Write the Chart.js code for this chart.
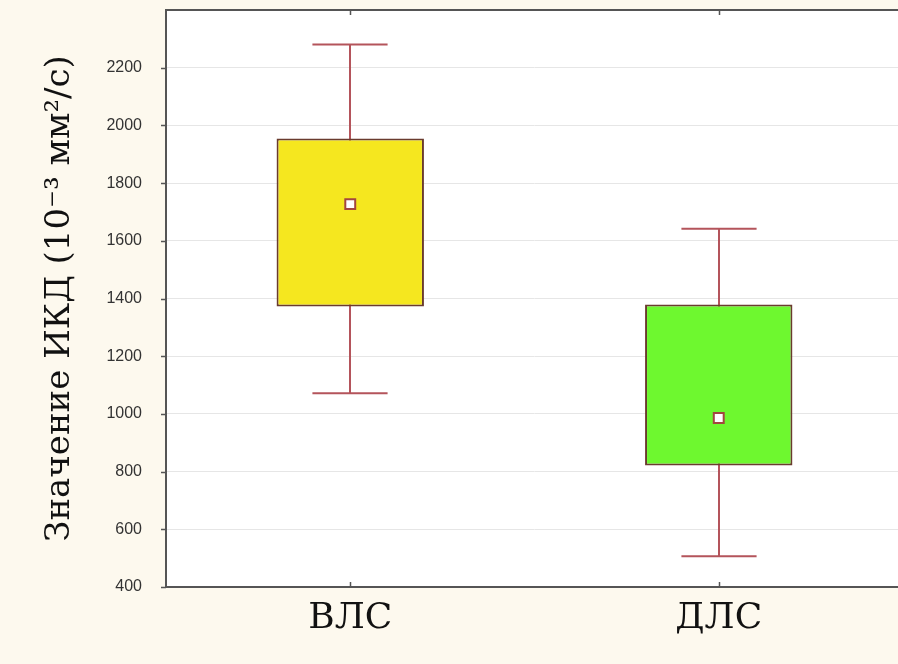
<!DOCTYPE html>
<html>
<head>
<meta charset="utf-8">
<script src="https://cdn.jsdelivr.net/npm/chart.js@4/dist/chart.umd.min.js"></script>
<style>
  html, body { margin: 0; padding: 0; background: #fdf9ee; overflow: hidden; }
  #wrap { width: 912px; height: 664px; }
</style>
</head>
<body>
<div id="wrap"><canvas id="c" width="912" height="664"></canvas></div>
<script>
// Groups and their five-number summaries (10^-3 mm²/s)
const groups = ['ВЛС', 'ДЛС'];
const whiskerLow = [1072, 507];
const boxLow = [1372, 821];
const medians = [1727, 986];
const boxHigh = [1955, 1379];
const whiskerHigh = [2280, 1642];
const yTicks = [400, 600, 800, 1000, 1200, 1400, 1600, 1800, 2000, 2200];

const boxColors = ['#f5e71f', '#6ef82f'];
const boxBorder = '#6a3b2e';
const whiskerColor = '#b4545b';

// Whiskers with caps, drawn behind the boxes
const whiskerPlugin = {
  id: 'whiskers',
  beforeDatasetsDraw(chart) {
    const { ctx, scales: { x, y } } = chart;
    const boxes = chart.getDatasetMeta(0).data;
    ctx.save();
    ctx.strokeStyle = whiskerColor;
    ctx.lineWidth = 2;
    groups.forEach((g, i) => {
      const cx = Math.round(x.getPixelForValue(i));
      const half = boxes[i].width * 0.255;
      const yLo = y.getPixelForValue(whiskerLow[i]);
      const yHi = y.getPixelForValue(whiskerHigh[i]);
      ctx.beginPath();
      ctx.moveTo(cx, yHi); ctx.lineTo(cx, yLo);
      ctx.moveTo(cx - half, yHi); ctx.lineTo(cx + half, yHi);
      ctx.moveTo(cx - half, yLo); ctx.lineTo(cx + half, yLo);
      ctx.stroke();
    });
    ctx.restore();
  }
};

// Plot frame, white plot background and small frame ticks
const framePlugin = {
  id: 'frame',
  beforeDraw(chart) {
    const { ctx, chartArea: a } = chart;
    ctx.save();
    ctx.fillStyle = '#ffffff';
    ctx.fillRect(a.left, a.top, a.right - a.left, a.bottom - a.top);
    ctx.restore();
  },
  afterDraw(chart) {
    const { ctx, chartArea: a, scales: { x, y } } = chart;
    ctx.save();
    ctx.strokeStyle = '#555555';
    ctx.lineWidth = 2;
    ctx.strokeRect(a.left, a.top, a.right - a.left, a.bottom - a.top);
    ctx.lineWidth = 1.5;
    ctx.beginPath();
    groups.forEach((g, i) => {
      const cx = Math.round(x.getPixelForValue(i)) + 0.5;
      ctx.moveTo(cx, a.top); ctx.lineTo(cx, a.top + 5);
      ctx.moveTo(cx, a.bottom); ctx.lineTo(cx, a.bottom - 5);
    });
    yTicks.forEach(v => {
      const py = Math.round(y.getPixelForValue(v)) + 0.5;
      ctx.moveTo(a.left, py); ctx.lineTo(a.left - 5, py);
    });
    ctx.stroke();
    ctx.restore();
  }
};

new Chart(document.getElementById('c'), {
  type: 'bar',
  data: {
    labels: groups,
    datasets: [
      {
        type: 'bar',
        data: groups.map((g, i) => [boxLow[i], boxHigh[i]]),
        backgroundColor: boxColors,
        borderColor: boxBorder,
        borderWidth: 2,
        borderSkipped: false,
        barPercentage: 0.4,
        categoryPercentage: 1.0,
        order: 2
      },
      {
        type: 'line',
        data: medians,
        showLine: false,
        pointStyle: 'rect',
        pointRadius: 7,
        pointBackgroundColor: '#ffffff',
        pointBorderColor: '#a2463f',
        pointBorderWidth: 2,
        order: 1
      }
    ]
  },
  options: {
    responsive: false,
    animation: false,
    events: [],
    layout: { padding: { top: 10, right: 6, left: 0, bottom: 0 } },
    plugins: { legend: { display: false }, tooltip: { enabled: false } },
    scales: {
      x: {
        offset: true,
        grid: { display: false, drawTicks: false },
        border: { display: false },
        ticks: {
          color: '#111111',
          font: { family: '"DejaVu Serif", serif', size: 36 },
          padding: 10
        },
        afterFit(scale) {
          scale.height = 77;
          scale.paddingLeft = 0;
          scale.paddingRight = 0;
        }
      },
      y: {
        min: 400,
        max: 2400,
        afterBuildTicks(scale) { scale.ticks = yTicks.map(v => ({ value: v })); },
        grid: { color: '#e6e6e6', lineWidth: 1, drawTicks: false },
        border: { display: false },
        ticks: {
          color: '#333333',
          font: { family: '"Liberation Sans", Arial, sans-serif', size: 16 },
          padding: 24,
          callback: v => String(v)
        },
        title: {
          display: true,
          text: 'Значение ИКД (10⁻³ мм²/с)',
          color: '#111111',
          font: { family: '"DejaVu Serif", serif', size: 34 },
          padding: { top: 40, bottom: 0 }
        },
        afterFit(scale) {
          scale.width = 166;
          scale.paddingTop = 0;
          scale.paddingBottom = 0;
        }
      }
    }
  },
  plugins: [whiskerPlugin, framePlugin]
});
</script>
</body>
</html>
